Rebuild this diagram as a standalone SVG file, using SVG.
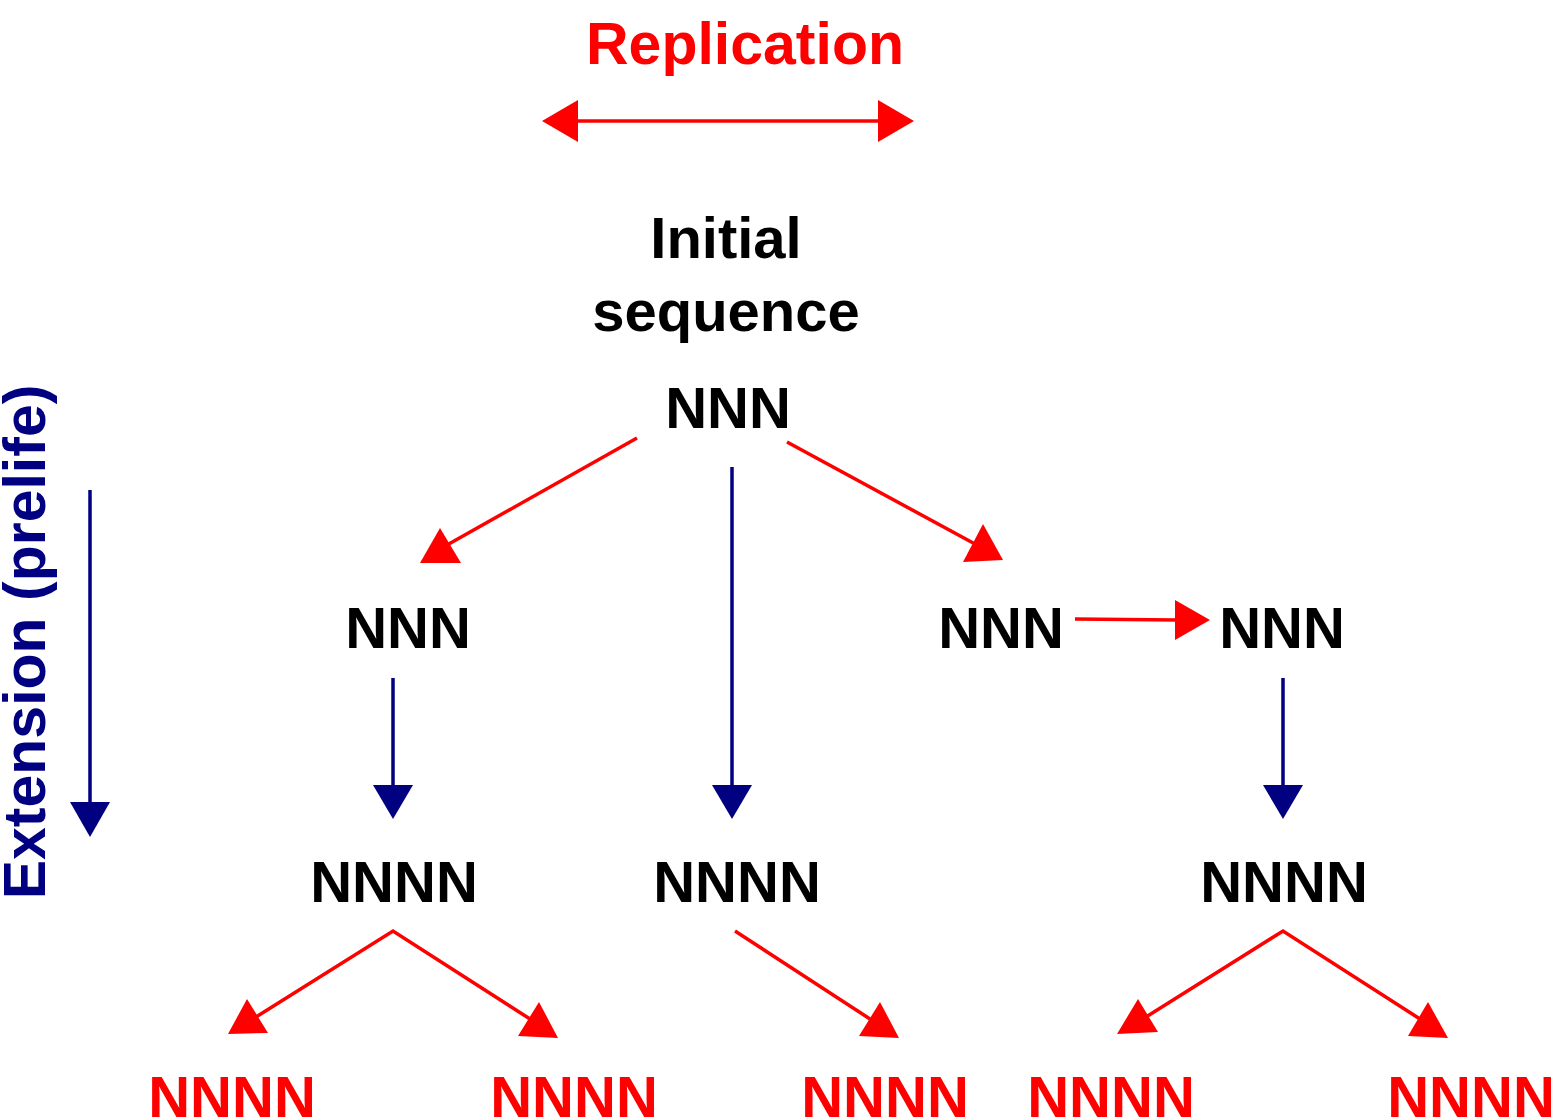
<svg xmlns="http://www.w3.org/2000/svg" width="1557" height="1120" viewBox="0 0 1557 1120">
  <style>
    text { font-family: "Liberation Sans", Arial, Helvetica, sans-serif; font-weight: bold; font-size: 58px; text-anchor: middle; }
    .big { font-size: 59px; }
    .blk { fill: #000000; }
    .red { fill: #ff0000; }
    .navy { fill: #000080; }
    .rl { stroke: #ff0000; stroke-width: 3.5; fill: none; }
    .bl { stroke: #000080; stroke-width: 3.5; fill: none; }
    .rh { fill: #ff0000; }
    .bh { fill: #000080; }
  </style>
  <rect width="1557" height="1120" fill="#ffffff"/>

  <!-- axis legends -->
  <g id="legend-replication">
    <text class="red big" x="745" y="64">Replication</text>
    <line class="rl" x1="576" y1="121" x2="881" y2="121"/>
    <polygon class="rh" points="542,121 578,100 578,142"/>
    <polygon class="rh" points="914,121 878,100 878,142"/>
  </g>
  <g id="legend-extension">
    <text class="navy big" transform="translate(45,642) rotate(-90)">Extension (prelife)</text>
    <line class="bl" x1="90" y1="490" x2="90" y2="805"/>
    <polygon class="bh" points="70,802 110,802 90,837"/>
  </g>

  <!-- nodes -->
  <g id="root">
    <text class="blk" x="726" y="258">Initial</text>
    <text class="blk" x="726" y="331">sequence</text>
    <text class="blk" x="728" y="428">NNN</text>
  </g>
  <g id="n2-left"><text class="blk" x="408" y="648">NNN</text></g>
  <g id="n2-mid"><text class="blk" x="1001" y="648">NNN</text></g>
  <g id="n2-right"><text class="blk" x="1282" y="648">NNN</text></g>
  <g id="n3-left"><text class="blk" x="394" y="902">NNNN</text></g>
  <g id="n3-mid"><text class="blk" x="737" y="902">NNNN</text></g>
  <g id="n3-right"><text class="blk" x="1284" y="902">NNNN</text></g>
  <g id="n4-1"><text class="red" x="232" y="1117">NNNN</text></g>
  <g id="n4-2"><text class="red" x="574" y="1117">NNNN</text></g>
  <g id="n4-3"><text class="red" x="885" y="1117">NNNN</text></g>
  <g id="n4-4"><text class="red" x="1111" y="1117">NNNN</text></g>
  <g id="n4-5"><text class="red" x="1471" y="1117">NNNN</text></g>

  <!-- connectors -->
  <g id="connectors">
    <!-- replication from the initial sequence -->
    <line class="rl" x1="637" y1="438" x2="447" y2="545"/>
    <polygon class="rh" points="440,528 420,563 461,563"/>
    <line class="rl" x1="787" y1="442" x2="975" y2="544"/>
    <polygon class="rh" points="983,524 963,562 1003,560"/>
    <line class="rl" x1="1075" y1="619" x2="1177" y2="620"/>
    <polygon class="rh" points="1210,620 1175,600 1175,640"/>

    <!-- extension steps -->
    <line class="bl" x1="732" y1="467" x2="732" y2="790"/>
    <polygon class="bh" points="712,785 752,785 732,819"/>
    <line class="bl" x1="393" y1="678" x2="393" y2="790"/>
    <polygon class="bh" points="373,785 413,785 393,819"/>
    <line class="bl" x1="1283" y1="678" x2="1283" y2="790"/>
    <polygon class="bh" points="1263,785 1303,785 1283,819"/>

    <!-- replication of extended sequences -->
    <polyline class="rl" points="256,1017 393,931 530,1019"/>
    <polygon class="rh" points="247,999 228,1034 268,1033"/>
    <polygon class="rh" points="539,1002 518,1036 558,1038"/>
    <line class="rl" x1="735" y1="931" x2="870" y2="1019"/>
    <polygon class="rh" points="880,1002 859,1036 899,1038"/>
    <polyline class="rl" points="1146,1017 1283,931 1420,1019"/>
    <polygon class="rh" points="1138,999 1117,1034 1158,1032"/>
    <polygon class="rh" points="1428,1002 1408,1036 1448,1038"/>
  </g>
</svg>
